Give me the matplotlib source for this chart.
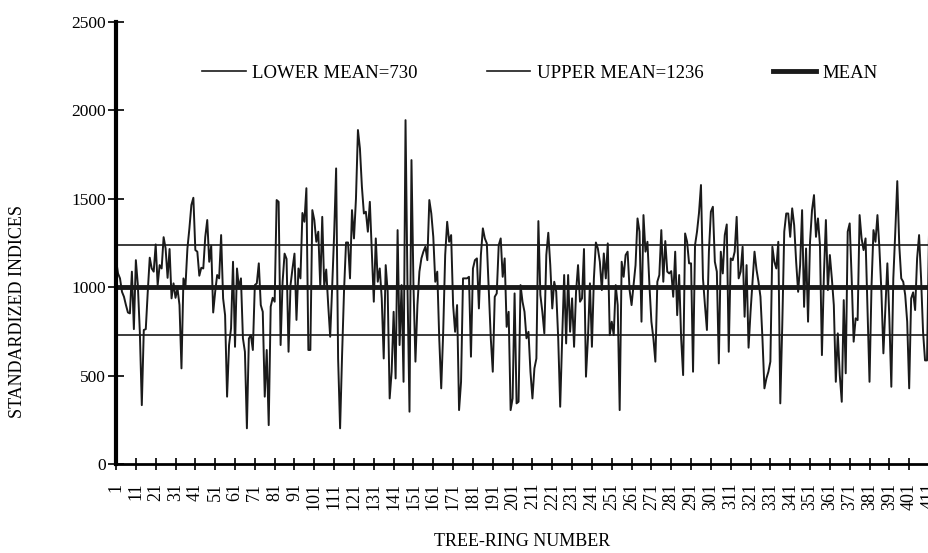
import numpy as np
import matplotlib.pyplot as plt

plt.rcParams['font.family'] = ['Liberation Serif', 'DejaVu Serif']

# standardized ring indices in runs
rings_001_067 = [1153, 1078, 1050, 974, 946, 899, 857, 852, 1088, 763,
                 1153, 1012, 748, 333, 758, 763, 974, 1167, 1106, 1088,
                 1242, 1012, 1125, 1106, 1283, 1219, 1053, 1216, 937, 1022,
                 940, 993, 899, 541, 1050, 1003, 1219, 1333, 1465, 1506,
                 1210, 1201, 1065, 1110, 1106, 1285, 1380, 1144, 1235, 857,
                 974, 1069, 1050, 1295, 937, 842, 381, 673, 767, 1144,
                 663, 1106, 993, 1050, 711, 635, 202]
rings_068_135 = [710, 729, 645, 1012, 1022, 1135, 899, 861, 381, 645,
                 220, 890, 940, 918, 1493, 1483, 673, 1030, 1190, 1160,
                 635, 1012, 1106, 1190, 815, 1106, 1050, 1420, 1370, 1560,
                 645, 645, 1436, 1380, 1257, 1314, 1003, 1398, 1003, 1100,
                 900, 720, 1000, 1300, 1672, 597, 202, 616, 984, 1253,
                 1253, 1050, 1436, 1276, 1500, 1889, 1785, 1568, 1417, 1427,
                 1314, 1483, 1200, 918, 1276, 1031, 1106, 937]
rings_136_206 = [597, 1125, 974, 371, 522, 861, 484, 1323, 673, 1012,
                 465, 1945, 993, 296, 1719, 1012, 579, 899, 1088, 1163,
                 1201, 1229, 1153, 1493, 1417, 1285, 1031, 1088, 711, 428,
                 748, 1182, 1370, 1257, 1295, 899, 748, 899, 305, 465,
                 1050, 1050, 1050, 1059, 607, 1106, 1153, 1163, 880, 1182,
                 1333, 1276, 1248, 974, 711, 522, 946, 965, 1238, 1276,
                 1059, 1163, 776, 861, 305, 371, 965, 343, 352, 1012,
                 918]
rings_207_274 = [861, 711, 748, 522, 371, 541, 597, 1374, 956, 861,
                 739, 1182, 1308, 1125, 880, 1031, 974, 711, 324, 711,
                 1069, 682, 1069, 748, 937, 663, 974, 1125, 918, 937,
                 1216, 494, 711, 1022, 663, 1050, 1253, 1219, 1144, 984,
                 1191, 1050, 1248, 729, 805, 729, 1012, 899, 305, 1144,
                 1059, 1182, 1201, 984, 899, 1012, 1125, 1389, 1314, 805,
                 1408, 1201, 1257, 1012, 805, 711, 579, 1031]
rings_275_341 = [1069, 1323, 1031, 1261, 1088, 1078, 1091, 946, 1201, 842,
                 1069, 711, 503, 1304, 1257, 1135, 1135, 522, 1238, 1314,
                 1420, 1578, 1050, 899, 758, 1201, 1427, 1455, 1144, 1088,
                 569, 1201, 1078, 1295, 1355, 635, 1163, 1153, 1201, 1398,
                 1050, 1088, 1229, 833, 1125, 658, 861, 1031, 1201, 1100,
                 1031, 946, 711, 428, 484, 522, 579, 1229, 1144, 1106,
                 1257, 343, 786, 1314, 1417, 1417, 1285]
rings_342_411 = [1446, 1351, 1144, 974, 1125, 1436, 889, 1219, 805, 1257,
                 1436, 1521, 1285, 1389, 1238, 616, 1069, 1380, 984, 1182,
                 1050, 899, 465, 739, 503, 352, 927, 513, 1314, 1361,
                 1050, 692, 824, 814, 1408, 1276, 1210, 1276, 880, 465,
                 1003, 1323, 1257, 1408, 1219, 974, 626, 880, 1135, 824,
                 437, 1050, 1314, 1600, 1238, 1050, 1031, 956, 805, 428,
                 937, 971, 871, 1163, 1295, 1050, 748, 586, 586, 1304]

lower_mean = 730
upper_mean = 1236
mean = 1000

indices = np.array(rings_001_067 + rings_068_135 + rings_136_206
                   + rings_207_274 + rings_275_341 + rings_342_411)
ring = np.arange(1, len(indices) + 1)

fig = plt.figure(figsize=(9.29, 5.53), dpi=100)
ax = fig.add_axes([0.1249, 0.1609, 0.8751, 0.7993])

ax.plot(ring, indices, color='#1a1a1a', lw=1.4)
ax.axhline(lower_mean, color='#1a1a1a', lw=1.2, label=f'LOWER MEAN={lower_mean}')
ax.axhline(upper_mean, color='#1a1a1a', lw=1.2, label=f'UPPER MEAN={upper_mean}')
ax.axhline(mean, color='#1a1a1a', lw=3.5, label='MEAN')

ax.set_xlim(1, len(indices))
ax.set_ylim(0, 2500)
ax.set_yticks(range(0, 2501, 500))
ax.set_xticks(range(1, len(indices) + 1, 10))
ax.tick_params(axis='x', direction='inout', length=9, width=1.2,
               labelrotation=90, labelsize=13, pad=9)
ax.tick_params(axis='y', direction='inout', length=12, width=1.2,
               labelsize=12.5, pad=1)

for side in ('top', 'right'):
    ax.spines[side].set_visible(False)
ax.spines['left'].set_linewidth(3)
ax.spines['bottom'].set_linewidth(2)

ax.set_ylabel('STANDARDIZED INDICES', fontsize=13)
ax.yaxis.set_label_coords(-0.1107, 0.344)
ax.set_xlabel('TREE-RING NUMBER', fontsize=13)
ax.xaxis.set_label_coords(0.5, -0.155)

ax.legend(loc='center', bbox_to_anchor=(0.5215, 0.884), ncol=3, frameon=False,
          fontsize=13.5, handlelength=2.3, columnspacing=3.7, handletextpad=0.35)

fig.savefig('out.png', dpi=100)
